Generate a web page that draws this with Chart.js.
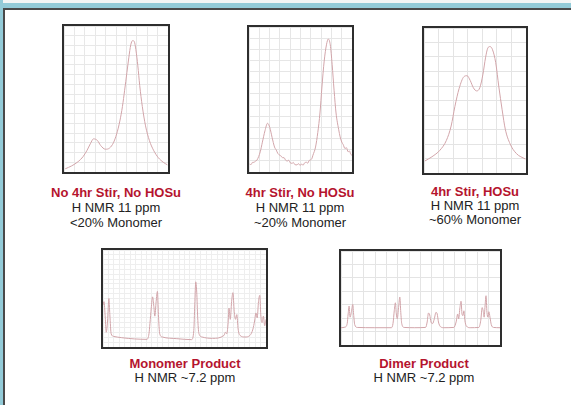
<!DOCTYPE html>
<html>
<head>
<meta charset="utf-8">
<script src="https://cdn.jsdelivr.net/npm/chart.js@4"></script>
<style>
  html, body { margin: 0; padding: 0; background: #fff; }
  body { width: 571px; height: 405px; position: relative; overflow: hidden; font-family: "Liberation Sans", Arial, sans-serif; }
  .topwhite { position: absolute; left: 0; top: 0; width: 571px; height: 3px; background: #f3f5f5; }
  .topblue { position: absolute; left: 0; top: 3px; width: 571px; height: 5px; background: #93cbd8; }
  .topdark { position: absolute; left: 3px; top: 8px; width: 568px; height: 2px; background: #4a4a4a; }
  .leftblue { position: absolute; left: 0; top: 0; width: 3px; height: 405px; background: #93cbd8; }
  .leftdark { position: absolute; left: 3px; top: 8px; width: 1.5px; height: 397px; background: #4a4a4a; }
  .box { position: absolute; border: 2px solid #2e2e2e; background: #fff; }
  .box canvas { display: block; }
  .cap { position: absolute; text-align: center; font-size: 13px; color: #222; white-space: nowrap; transform: translateX(-50%); }
  .cap b { color: #b5142e; font-weight: bold; display: block; }
  .cap span { display: block; }
</style>
</head>
<body>
<div class="topwhite"></div>
<div class="topblue"></div>
<div class="leftblue"></div>
<div class="topdark"></div>
<div class="leftdark"></div>

<div class="box" style="left:62px;top:24px;"><canvas id="c1" width="104" height="146"></canvas></div>
<div class="box" style="left:247px;top:25px;"><canvas id="c2" width="103" height="145"></canvas></div>
<div class="box" style="left:422px;top:26px;"><canvas id="c3" width="102" height="145"></canvas></div>
<div class="box" style="left:101px;top:248px;"><canvas id="c4" width="163" height="97"></canvas></div>
<div class="box" style="left:339px;top:249px;"><canvas id="c5" width="159" height="94"></canvas></div>

<div class="cap" style="left:116px;top:185px;line-height:15px;"><b>No 4hr Stir, No HOSu</b><span>H NMR 11 ppm</span><span>&lt;20% Monomer</span></div>
<div class="cap" style="left:300px;top:185px;line-height:15px;"><b>4hr Stir, No HOSu</b><span>H NMR 11 ppm</span><span>~20% Monomer</span></div>
<div class="cap" style="left:475px;top:185px;line-height:14px;"><b>4hr Stir, HOSu</b><span>H NMR 11 ppm</span><span>~60% Monomer</span></div>
<div class="cap" style="left:185px;top:357px;line-height:14px;"><b>Monomer Product</b><span>H NMR ~7.2 ppm</span></div>
<div class="cap" style="left:424px;top:357px;line-height:14px;"><b>Dimer Product</b><span>H NMR ~7.2 ppm</span></div>

<script>
// Spectrum 1: No 4hr Stir, No HOSu (x: % of window, y: % of height)
const spec1X = [1.2, 7.4, 13.6, 18.2, 22.2, 25.3, 28.4, 32.1, 35.2, 39.8, 43.8, 47.5, 50.6, 53.7, 56.2, 58.3, 60.5, 62.3, 64.2, 66.0, 67.6, 69.1, 71.0, 72.8, 75.3, 78.4, 82.1, 86.1, 90.7, 95.4, 99.4];
const spec1Y = [2.2, 4.2, 7.1, 10.4, 14.9, 19.3, 22.7, 21.6, 18.2, 15.6, 16.4, 20.0, 26.0, 34.9, 44.9, 56.0, 68.2, 78.2, 87.1, 90.0, 89.3, 83.8, 72.7, 59.3, 44.9, 31.6, 21.6, 14.9, 9.8, 6.7, 4.9];

// Spectrum 2: 4hr Stir, No HOSu
const spec2X = [0.6, 2.0, 3.3, 4.7, 6.2, 7.8, 10.9, 13.0, 15.5, 18.0, 20.2, 22.4, 24.8, 26.5, 28.0, 30.0, 31.5, 32.6, 34.0, 35.5, 37.3, 38.5, 40.0, 41.9, 43.0, 44.5, 46.6, 48.0, 49.5, 51.2, 52.5, 54.0, 55.9, 57.0, 58.5, 59.6, 61.0, 62.1, 64.6, 66.8, 68.9, 70.8, 73.0, 75.2, 77.0, 78.9, 80.7, 82.6, 84.5, 87.0, 88.5, 90.1, 91.5, 93.2, 94.5, 96.3, 97.5, 98.8, 100];
const spec2Y = [5.4, 5.1, 6.6, 6.7, 7.4, 8.3, 13.9, 20.6, 28.4, 33.6, 30.6, 23.9, 17.2, 15.1, 12.8, 11.5, 10.8, 9.8, 9.9, 8.2, 7.6, 8.1, 6.4, 6.0, 6.6, 5.1, 4.9, 5.8, 4.6, 5.4, 4.7, 6.3, 6.7, 6.1, 8.0, 8.3, 9.2, 11.6, 17.2, 27.3, 40.7, 58.6, 76.5, 87.7, 91.7, 87.7, 74.3, 56.4, 40.7, 29.5, 24.2, 20.6, 18.9, 16.1, 16.8, 13.9, 14.5, 12.2, 11.6];

// Spectrum 3: 4hr Stir, HOSu
const spec3X = [0.9, 7.8, 15.6, 21.9, 26.6, 30.3, 34.4, 39.1, 42.2, 45.3, 48.4, 51.6, 54.7, 57.8, 60.3, 62.5, 64.7, 67.2, 70.3, 73.4, 76.6, 79.7, 84.4, 90.6, 99.4];
const spec3Y = [8.3, 11.2, 15.7, 22.4, 32.4, 45.9, 58.2, 66.4, 67.1, 63.8, 58.8, 56.6, 58.8, 68.2, 79.4, 86.1, 87.2, 85.0, 76.1, 59.3, 43.6, 30.2, 20.1, 13.4, 9.6];

// Spectrum 4: Monomer Product
const spec4X = [0, 0.6, 1.4, 2.0, 2.8, 3.6, 4.2, 5.0, 6.6, 11.5, 19.5, 27.0, 28.2, 28.8, 29.6, 30.4, 31.2, 31.8, 32.6, 33.4, 34.0, 34.8, 36.4, 45.3, 54.3, 55.7, 56.3, 56.9, 57.5, 58.1, 58.8, 60.8, 67.2, 74.2, 75.1, 75.9, 76.7, 77.3, 78.1, 78.9, 79.7, 80.5, 81.3, 82.1, 82.9, 84.1, 87.1, 90.1, 92.0, 93.0, 93.8, 94.6, 95.4, 96.2, 96.8, 97.6, 98.4, 99.2, 100];
const spec4Y = [43.4, 46.7, 30.1, 15.2, 26.8, 50.0, 33.4, 13.6, 10.9, 9.6, 8.3, 7.9, 13.6, 24.2, 40.1, 51.7, 41.7, 31.8, 46.7, 57.3, 33.4, 13.6, 10.3, 8.6, 7.6, 16.9, 43.4, 67.2, 56.6, 30.1, 14.2, 10.3, 8.9, 11.9, 15.2, 13.6, 23.5, 40.1, 28.5, 46.7, 56.0, 36.8, 28.5, 33.4, 18.5, 11.9, 10.3, 11.9, 18.5, 26.8, 35.1, 30.1, 46.7, 53.3, 33.4, 25.2, 31.8, 21.9, 28.5];

// Spectrum 5: Dimer Product
const spec5X = [0, 2.5, 3.9, 4.5, 5.1, 5.7, 6.5, 7.4, 8.0, 8.6, 10.2, 20.9, 31.7, 32.7, 33.5, 34.2, 34.8, 35.4, 36.2, 37.0, 37.6, 38.2, 39.7, 46.4, 53.2, 54.2, 55.0, 55.8, 56.6, 57.6, 58.7, 59.7, 60.5, 61.3, 62.6, 64.8, 71.0, 72.4, 73.4, 74.0, 74.8, 75.5, 76.1, 76.7, 77.3, 77.9, 78.9, 81.2, 86.7, 87.9, 88.8, 89.4, 90.0, 90.6, 91.2, 91.8, 92.4, 93.0, 93.7, 94.5, 95.9, 100];
const spec5Y = [18.4, 19.0, 22.8, 33.0, 41.5, 29.6, 34.7, 43.2, 31.3, 21.8, 18.7, 18.4, 18.4, 22.8, 36.4, 44.9, 33.0, 27.9, 39.8, 51.0, 34.7, 22.8, 18.7, 18.4, 18.7, 24.5, 34.0, 32.0, 24.5, 22.8, 27.9, 34.7, 33.0, 24.5, 19.4, 18.4, 18.7, 24.5, 33.0, 27.9, 39.8, 46.6, 33.0, 31.3, 36.4, 26.2, 20.1, 18.4, 18.7, 26.2, 39.8, 36.4, 29.6, 41.5, 52.4, 34.7, 29.6, 35.4, 29.6, 21.8, 18.7, 18.4];

// Grid divisions per panel: [x tick count, y tick count]
const gridCounts = {
  c1: [11, 16],
  c2: [11, 14],
  c3: [8, 11],
  c4: [31, 21],
  c5: [15, 8]
};

const lineColor = 'rgb(210, 165, 170)';

function makeChart(id, xs, ys, gridColor) {
  const pts = xs.map((x, i) => ({ x: x, y: ys[i] }));
  const [xc, yc] = gridCounts[id];
  new Chart(document.getElementById(id), {
    type: 'line',
    data: {
      datasets: [{
        data: pts,
        borderColor: lineColor,
        borderWidth: 1,
        pointRadius: 0,
        fill: false,
        cubicInterpolationMode: 'monotone'
      }]
    },
    options: {
      responsive: false,
      animation: false,
      events: [],
      layout: { padding: 0 },
      plugins: { legend: { display: false }, tooltip: { enabled: false } },
      scales: {
        x: {
          type: 'linear', min: 0, max: 100,
          ticks: { display: false, count: xc },
          grid: { color: gridColor, drawTicks: false, lineWidth: 1 },
          border: { display: false }
        },
        y: {
          type: 'linear', min: 0, max: 100,
          ticks: { display: false, count: yc },
          grid: { color: gridColor, drawTicks: false, lineWidth: 1 },
          border: { display: false }
        }
      }
    }
  });
}

makeChart('c1', spec1X, spec1Y, '#e8e8e8');
makeChart('c2', spec2X, spec2Y, '#e6e6e6');
makeChart('c3', spec3X, spec3Y, '#e4e4e4');
makeChart('c4', spec4X, spec4Y, '#eeeeee');
makeChart('c5', spec5X, spec5Y, '#e4e4e4');
</script>
</body>
</html>
